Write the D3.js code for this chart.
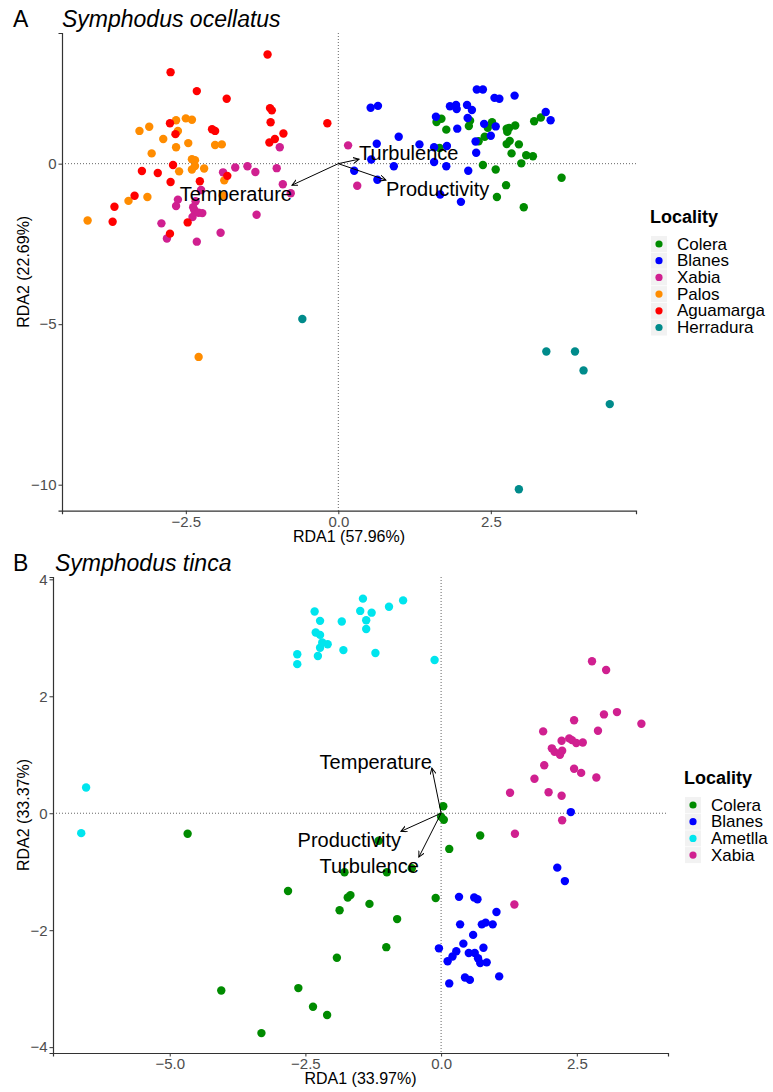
<!DOCTYPE html>
<html>
<head>
<meta charset="utf-8">
<script src="https://cdn.jsdelivr.net/npm/d3@7"></script>
<style>
  body { margin: 0; background: #fff; }
  svg text { font-family: "Liberation Sans", Arial, sans-serif; }
</style>
</head>
<body>
<script>
// ---- panel A : Symphodus ocellatus ----
var localitiesA = ["Colera", "Blanes", "Xabia", "Palos", "Aguamarga", "Herradura"];
var coloursA = ["#008B00", "#0000FF", "#D02090", "#FF8C00", "#FF0000", "#008B8B"];

var coleraA = [[1.61,1.30],[1.69,1.40],[2.16,1.34],[2.14,1.17],[1.77,1.06],[2.45,1.12],[2.52,1.29],[2.76,1.09],
  [2.77,0.99],[2.80,1.11],[2.90,1.19],[2.40,0.84],[2.30,0.70],[2.76,0.61],[2.81,0.71],[2.96,0.60],[2.84,0.32],
  [3.08,0.26],[3.19,0.23],[3.21,1.32],[3.32,1.44],[2.37,-0.04],[2.58,-0.18],[3.00,0.01],[2.75,-0.67],[2.60,-1.04],
  [3.04,-1.36],[3.66,-0.44],[1.66,0.49]];
var blanesA = [[0.53,1.74],[0.65,1.80],[0.99,0.84],[0.63,0.62],[0.54,0.13],[0.26,-0.22],[0.64,-0.50],[0.91,-0.08],
  [1.33,0.60],[1.57,0.51],[1.78,0.55],[1.57,0.05],[1.77,-0.08],[2.27,2.31],[2.37,2.31],[2.56,2.05],[2.64,2.02],
  [2.89,2.12],[1.83,1.79],[1.93,1.83],[1.94,1.70],[2.11,1.83],[2.19,1.67],[1.60,1.46],[2.12,1.42],[1.95,1.09],
  [2.39,1.24],[2.58,1.16],[2.50,0.87],[2.25,0.69],[2.26,0.34],[2.13,-0.22],[1.67,-0.96],[2.01,-1.19],[3.40,1.61],
  [3.48,1.35]];
var xabiaA = [[-0.96,0.51],[0.16,0.57],[0.31,-0.69],[-1.89,-0.27],[-1.69,-0.12],[-1.49,-0.08],[-1.36,-0.26],
  [-1.01,-0.14],[-0.91,-0.64],[-0.78,-0.92],[-2.25,-0.82],[-2.34,-1.17],[-2.63,-1.12],[-2.66,-1.32],[-2.38,-1.36],
  [-2.36,-1.45],[-2.29,-1.53],[-2.23,-1.54],[-2.39,-1.66],[-1.34,-1.59],[-2.90,-1.86],[-2.81,-2.33],[-2.32,-2.43],
  [-1.93,-2.15]];
var palosA = [[-2.66,1.35],[-2.50,1.41],[-2.40,1.37],[-3.26,1.02],[-3.10,1.15],[-2.63,1.02],[-2.87,0.77],[-2.46,0.64],
  [-2.66,0.51],[-2.02,0.58],[-1.91,0.60],[-3.06,0.32],[-2.40,0.14],[-2.35,0.11],[-2.35,-0.07],[-2.40,-0.18],
  [-2.20,-0.15],[-2.61,-0.24],[-1.87,-0.52],[-1.90,-0.99],[-3.13,-1.04],[-3.44,-1.16],[-4.11,-1.77],[-2.29,-6.02]];
var aguamargaA = [[-1.16,3.40],[-2.75,2.85],[-2.32,2.26],[-1.83,2.02],[-1.12,1.73],[-1.09,1.66],[-1.11,1.29],
  [-2.76,1.26],[-0.18,1.26],[-2.07,1.07],[-2.02,1.02],[-2.67,0.92],[-0.90,0.94],[-1.04,0.77],[-1.13,0.66],
  [-2.71,-0.04],[-3.22,-0.23],[-2.96,-0.29],[-1.82,-0.38],[-2.75,-0.57],[-2.27,-0.55],[-3.34,-1.00],[-3.67,-1.34],
  [-3.70,-1.81],[-2.47,-1.83],[-2.76,-2.18]];
var herraduraA = [[-0.59,-4.84],[3.41,-5.85],[3.88,-5.85],[4.02,-6.44],[4.45,-7.49],[2.96,-10.14]];

var envA = ["Temperature", "Turbulence", "Productivity"];
var envArrowsA = [[-0.76,-0.67],[0.34,0.14],[0.78,-0.51]];
var xTicksA = [-2.5, 0, 2.5];
var yTicksA = [0, -5, -10];

// ---- panel B : Symphodus tinca ----
var localitiesB = ["Colera", "Blanes", "Ametlla", "Xabia"];
var coloursB = ["#008B00", "#0000FF", "#00E5EE", "#D02090"];

var coleraB = [[0.04,0.12],[0.00,-0.06],[0.05,-0.11],[0.72,-0.38],[0.15,-0.61],[-4.67,-0.35],[-1.15,-0.47],
  [-1.78,-1.01],[-1.00,-1.01],[-0.54,-0.94],[-2.82,-1.33],[-1.72,-1.44],[-1.67,-1.40],[-1.32,-1.55],[-0.10,-1.45],
  [-1.87,-1.66],[-0.81,-1.81],[-1.01,-2.29],[-1.92,-2.47],[-4.05,-3.03],[-2.63,-2.99],[-2.36,-3.31],[-2.10,-3.45],
  [-3.31,-3.76]];
var blanesB = [[2.39,0.02],[0.33,-1.43],[0.61,-1.44],[0.67,-1.47],[2.14,-0.93],[2.28,-1.16],[1.02,-1.69],[0.35,-1.90],
  [0.75,-1.90],[0.82,-1.87],[0.95,-1.90],[0.59,-2.08],[0.41,-2.23],[-0.04,-2.31],[0.78,-2.30],[0.28,-2.36],
  [0.21,-2.45],[0.51,-2.39],[0.62,-2.39],[0.68,-2.48],[0.72,-2.56],[0.84,-2.55],[0.12,-2.53],[0.15,-2.91],
  [0.44,-2.81],[0.53,-2.85],[1.07,-2.79]];
var ametllaB = [[-1.44,3.67],[-0.70,3.64],[-2.33,3.45],[-1.49,3.46],[-1.28,3.43],[-0.96,3.53],[-2.23,3.29],
  [-1.83,3.28],[-1.38,3.30],[-1.38,3.15],[-2.31,3.09],[-2.23,3.05],[-2.19,2.92],[-2.09,2.89],[-2.23,2.83],
  [-1.80,2.79],[-1.21,2.74],[-2.65,2.72],[-2.27,2.69],[-2.65,2.55],[-0.12,2.62],[-6.54,0.44],[-6.63,-0.34]];
var xabiaB = [[2.78,2.60],[3.04,2.45],[3.24,1.73],[3.00,1.69],[3.69,1.53],[2.45,1.59],[1.88,1.40],[2.89,1.41],
  [2.22,1.24],[2.36,1.28],[2.41,1.25],[2.49,1.20],[2.61,1.21],[2.04,1.11],[2.09,1.05],[2.23,1.07],[2.19,1.00],
  [1.90,0.82],[2.45,0.76],[2.58,0.69],[2.86,0.61],[1.72,0.59],[1.27,0.35],[1.98,0.36],[2.22,0.30],[2.23,-0.12],
  [1.36,-0.35],[1.35,-1.56]];

var envB = ["Temperature", "Productivity", "Turbulence"];
var envArrowsB = [[-0.17,0.77],[-0.74,-0.31],[-0.41,-0.75]];
var xTicksB = [-5, -2.5, 0, 2.5];
var yTicksB = [4, 2, 0, -2, -4];

var svg = d3.select("body").append("svg")
  .attr("width", 773)
  .attr("height", 1092);

// open arrow head like ggplot's arrow()
svg.append("defs").append("marker")
  .attr("id", "head")
  .attr("markerUnits", "userSpaceOnUse")
  .attr("markerWidth", 10).attr("markerHeight", 10)
  .attr("refX", 6).attr("refY", 3)
  .attr("orient", "auto")
  .append("path")
  .attr("d", "M0,0 L6,3 L0,6")
  .attr("fill", "none").attr("stroke", "#000").attr("stroke-width", 1);

var drawPanel = function(p){
  var g = svg.append("g");
  var x = d3.scaleLinear().domain(p.xDomain).range([p.left, p.right]);
  var y = d3.scaleLinear().domain(p.yDomain).range([p.bottom, p.top]);

  // dotted zero lines
  g.append("line")
    .attr("x1", p.left).attr("x2", p.right)
    .attr("y1", y(0)).attr("y2", y(0))
    .attr("stroke", "#666").attr("stroke-dasharray", "1,2");
  g.append("line")
    .attr("x1", x(0)).attr("x2", x(0))
    .attr("y1", p.top).attr("y2", p.bottom)
    .attr("stroke", "#666").attr("stroke-dasharray", "1,2");

  // axes
  var fmtX = d3.format(".1f");
  var xAxis = g.append("g")
    .attr("transform", "translate(0," + p.bottom + ")")
    .call(d3.axisBottom(x).tickValues(p.xTicks).tickFormat(fmtX).tickSizeOuter(0).tickSize(3.5).tickPadding(2));
  var yAxis = g.append("g")
    .attr("transform", "translate(" + p.left + ",0)")
    .call(d3.axisLeft(y).tickValues(p.yTicks).tickFormat(d3.format("d")).tickSizeOuter(0).tickSize(3.5).tickPadding(2));
  [xAxis, yAxis].forEach(function(a){
    a.select(".domain").attr("stroke", "#333").attr("stroke-width", 1.2);
    a.selectAll(".tick line").attr("stroke", "#333");
    a.selectAll(".tick text").attr("fill", "#4D4D4D").style("font-size", "15px")
      .style("font-family", "'Liberation Sans', Arial, sans-serif");
  });

  // points
  p.groups.forEach(function(pts, i){
    g.append("g").selectAll("circle")
      .data(pts)
      .enter()
      .append("circle")
      .attr("cx", function(d){ return x(d[0]); })
      .attr("cy", function(d){ return y(d[1]); })
      .attr("r", 4.2)
      .style("fill", p.colours[i]);
  });

  // biplot arrows + labels
  p.arrows.forEach(function(a, i){
    g.append("line")
      .attr("x1", x(0)).attr("y1", y(0))
      .attr("x2", x(a[0])).attr("y2", y(a[1]))
      .attr("stroke", "#000").attr("stroke-width", 1)
      .attr("marker-end", "url(#head)");
    g.append("text")
      .attr("x", x(a[0]))
      .attr("y", y(a[1]) + (a[1] > 0 ? -6.5 : 9))
      .attr("dominant-baseline", "central")
      .attr("text-anchor", a[0] > 0 ? "start" : "end")
      .style("font-size", "20px")
      .text(p.arrowNames[i]);
  });

  // titles
  g.append("text").attr("x", p.tagX).attr("y", p.titleY)
    .style("font-size", "23px").text(p.tag);
  g.append("text").attr("x", p.titleX).attr("y", p.titleY)
    .style("font-size", "23px").style("font-style", "italic").text(p.title);
  g.append("text")
    .attr("x", (p.left + p.right) / 2).attr("y", p.bottom + 31)
    .attr("text-anchor", "middle").style("font-size", "16px").text(p.xLabel);
  g.append("text")
    .attr("transform", "translate(29," + (p.top + p.bottom) / 2 + ") rotate(-90)")
    .attr("text-anchor", "middle").style("font-size", "16px").text(p.yLabel);

  // legend
  var lg = g.append("g");
  lg.append("text").attr("x", p.legX - 1).attr("y", p.legY - 21)
    .style("font-size", "18px").style("font-weight", "bold").text("Locality");
  p.names.forEach(function(n, i){
    var cy = p.legY + i * 16.7;
    lg.append("rect")
      .attr("x", p.legX).attr("y", cy - 8)
      .attr("width", 16).attr("height", 16)
      .attr("fill", "#F2F2F2");
    lg.append("circle")
      .attr("cx", p.legX + 8).attr("cy", cy).attr("r", 3.6)
      .style("fill", p.colours[i]);
    lg.append("text")
      .attr("x", p.legX + 26).attr("y", cy)
      .attr("dominant-baseline", "central")
      .style("font-size", "17px").text(n);
  });
};

drawPanel({
  left: 62, right: 636, top: 33, bottom: 510.7,
  xDomain: [-4.53, 4.88], yDomain: [-10.81, 4.07],
  xTicks: xTicksA, yTicks: yTicksA,
  groups: [coleraA, blanesA, xabiaA, palosA, aguamargaA, herraduraA],
  colours: coloursA, names: localitiesA,
  arrows: envArrowsA, arrowNames: envA,
  tag: "A", tagX: 13, title: "Symphodus ocellatus", titleX: 62, titleY: 27,
  xLabel: "RDA1 (57.96%)", yLabel: "RDA2 (22.69%)",
  legX: 651, legY: 244
});

drawPanel({
  left: 53, right: 668, top: 577, bottom: 1053,
  xDomain: [-7.15, 4.18], yDomain: [-4.10, 4.04],
  xTicks: xTicksB, yTicks: yTicksB,
  groups: [coleraB, blanesB, ametllaB, xabiaB],
  colours: coloursB, names: localitiesB,
  arrows: envArrowsB, arrowNames: envB,
  tag: "B", tagX: 13, title: "Symphodus tinca", titleX: 55, titleY: 571,
  xLabel: "RDA1 (33.97%)", yLabel: "RDA2 (33.37%)",
  legX: 685, legY: 805
});
</script>
</body>
</html>
